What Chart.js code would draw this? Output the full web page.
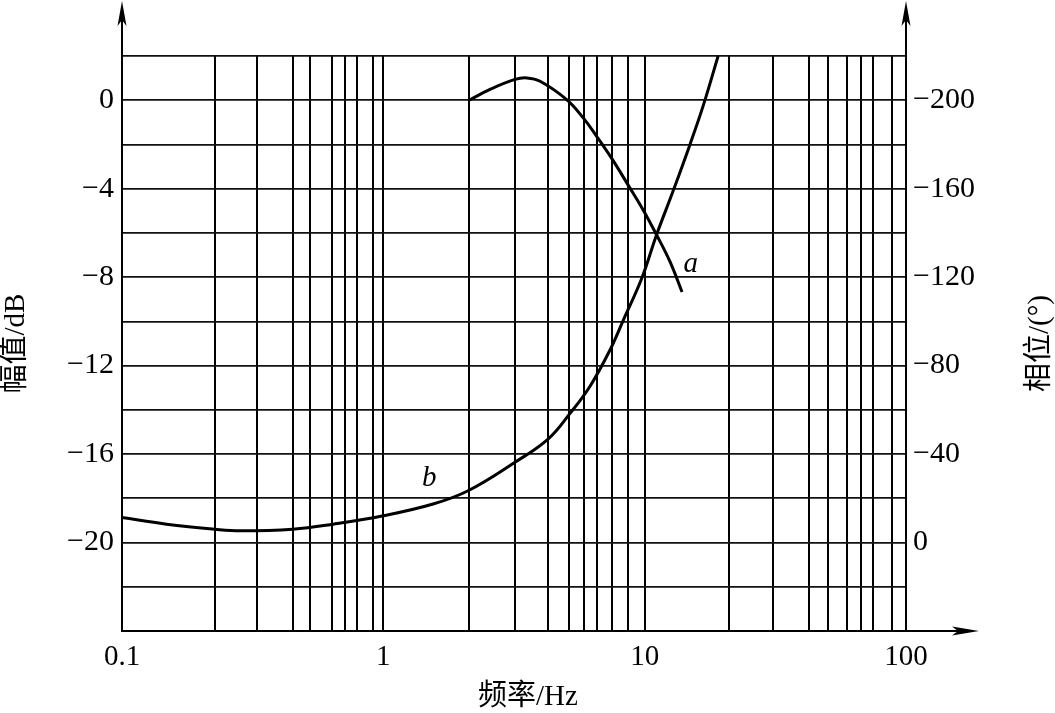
<!DOCTYPE html>
<html><head><meta charset="utf-8">
<script src="https://cdn.jsdelivr.net/npm/chart.js@4.4.1/dist/chart.umd.min.js"></script>
<style>html,body{margin:0;padding:0;background:#fff;}canvas{display:block;}</style>
</head><body>
<canvas id="c" width="1055" height="713"></canvas>
<script>
// Curve a : amplitude (dB), left axis
const freqA = [2.13, 2.56, 3.19, 3.54, 3.98, 5.03, 5.82, 6.55, 7.48, 8.66, 9.88, 11.1, 12.5, 13.9];
const ampA  = [0, 0.49, 0.94, 1.01, 0.86, 0.03, -0.80, -1.63, -2.63, -3.85, -4.97, -6.08, -7.3, -8.67];
// Curve b : phase (deg), right axis
const freqB  = [0.1, 0.148, 0.227, 0.283, 0.45, 0.644, 1.0, 1.55, 2.11, 3.19, 4.28, 5.18, 6.18, 7.37, 8.28, 9.74, 11.1, 12.9, 14.9, 16.8, 19.1];
const phaseB = [-11.3, -8.3, -6.0, -5.3, -6.0, -8.3, -12.1, -17.4, -23.4, -36.3, -46.9, -58.4, -70.7, -87.1, -100.5, -119.4, -139.1, -159.5, -179.9, -198.0, -220];
// Vertical grid lines as drawn on the paper (Hz)
const gridFreqs = [0.1, 0.227, 0.328, 0.45, 0.524, 0.636, 0.713, 0.791, 0.911, 1,
                   2.13, 3.19, 4.28, 5.15, 5.86, 6.59, 7.5, 8.61, 10,
                   21.0, 31.0, 42.7, 50.4, 59.6, 67.3, 75.0, 88.6, 100];
const freqTickLabels = [0.1, 1, 10, 100];
const ampTickLabels = [0, -4, -8, -12, -16, -20];
const phaseTickLabels = [-200, -160, -120, -80, -40, 0];
const curveNames = ['a', 'b'];
const curveNameFreq = [15.0, 1.5];
const curveNameAmp = [-7.4, -17.1];
const titleX = '频率/Hz';
const titleLeft = '幅值/dB';
const titleRight = '相位/(°)';

const FONT = '"Liberation Serif", "Times New Roman", "Noto Sans CJK SC", serif';
const fmt = v => v < 0 ? '\u2212' + Math.abs(v) : String(v);

function arrowUp(ctx, x, tipY) {
  ctx.beginPath();
  ctx.moveTo(x, tipY);
  ctx.lineTo(x - 4.5, tipY + 25);
  ctx.lineTo(x, tipY + 19);
  ctx.lineTo(x + 4.5, tipY + 25);
  ctx.closePath();
  ctx.fill();
}
function arrowRight(ctx, tipX, y) {
  ctx.beginPath();
  ctx.moveTo(tipX, y);
  ctx.lineTo(tipX - 27, y - 4.5);
  ctx.lineTo(tipX - 21, y);
  ctx.lineTo(tipX - 27, y + 4.5);
  ctx.closePath();
  ctx.fill();
}

const decor = {
  id: 'decor',
  afterDraw(chart) {
    const ctx = chart.ctx, ca = chart.chartArea;
    const sx = chart.scales.x, sy = chart.scales.y;
    ctx.save();
    ctx.strokeStyle = '#000'; ctx.fillStyle = '#000'; ctx.lineWidth = 2;
    ctx.beginPath();
    ctx.moveTo(ca.left, ca.top); ctx.lineTo(ca.left, 8);
    ctx.moveTo(ca.right, ca.top); ctx.lineTo(ca.right, 8);
    ctx.moveTo(ca.right, ca.bottom); ctx.lineTo(ca.right + 66, ca.bottom);
    ctx.stroke();
    arrowUp(ctx, ca.left, 1);
    arrowUp(ctx, ca.right, 1);
    arrowRight(ctx, ca.right + 73, ca.bottom);
    ctx.font = '29px ' + FONT;
    ctx.textAlign = 'center'; ctx.textBaseline = 'middle';
    ctx.fillText(titleX, 528, 697);
    const cy = (ca.top + ca.bottom) / 2;
    ctx.save(); ctx.translate(16, cy); ctx.rotate(-Math.PI / 2); ctx.fillText(titleLeft, 0, 0); ctx.restore();
    ctx.save(); ctx.translate(1040, cy); ctx.rotate(-Math.PI / 2); ctx.fillText(titleRight, 0, 0); ctx.restore();
    ctx.font = 'italic 29px ' + FONT;
    curveNames.forEach((n, i) => {
      ctx.fillText(n, sx.getPixelForValue(curveNameFreq[i]), sy.getPixelForValue(curveNameAmp[i]));
    });
    ctx.restore();
  }
};

new Chart(document.getElementById('c'), {
  type: 'scatter',
  data: {
    datasets: [
      { label: 'a', data: freqA.map((f, i) => ({ x: f, y: ampA[i] })), yAxisID: 'y',
        showLine: true, borderColor: '#000', borderWidth: 3, pointRadius: 0, tension: 0.4 },
      { label: 'b', data: freqB.map((f, i) => ({ x: f, y: phaseB[i] })), yAxisID: 'y2',
        showLine: true, borderColor: '#000', borderWidth: 3, pointRadius: 0, tension: 0.4 }
    ]
  },
  options: {
    responsive: false, animation: false, devicePixelRatio: 1,
    layout: { padding: { top: 56, left: 0, right: 0, bottom: 0 } },
    plugins: { legend: { display: false }, tooltip: { enabled: false } },
    scales: {
      x: {
        type: 'logarithmic', min: 0.1, max: 100, position: 'bottom',
        afterBuildTicks: s => { s.ticks = gridFreqs.map(v => ({ value: v })); },
        afterFit: s => { s.height = 82; },
        grid: { color: '#000', lineWidth: 2, drawTicks: false },
        border: { display: true, color: '#000', width: 2 },
        ticks: { autoSkip: false, maxRotation: 0, padding: 9, color: '#000',
          font: { family: FONT, size: 29 },
          callback: v => freqTickLabels.includes(v) ? String(v) : '' }
      },
      y: {
        type: 'linear', position: 'left', min: -24, max: 2,
        afterFit: s => { s.width = 122; },
        grid: { color: '#111', lineWidth: 1.7, drawTicks: false },
        border: { display: true, color: '#000', width: 2 },
        ticks: { stepSize: 2, padding: 8, color: '#000', autoSkip: false,
          font: { family: FONT, size: 30 },
          callback: v => ampTickLabels.includes(v) ? fmt(v) : '' }
      },
      y2: {
        type: 'linear', position: 'right', min: -220, max: 40, reverse: true,
        afterBuildTicks: s => { s.ticks = phaseTickLabels.map(v => ({ value: v })); },
        afterFit: s => { s.width = 149; },
        grid: { display: false, drawTicks: false },
        border: { display: true, color: '#000', width: 2 },
        ticks: { padding: 7, color: '#000', autoSkip: false,
          font: { family: FONT, size: 30 },
          callback: v => fmt(v) }
      }
    }
  },
  plugins: [decor]
});
</script>
</body></html>
